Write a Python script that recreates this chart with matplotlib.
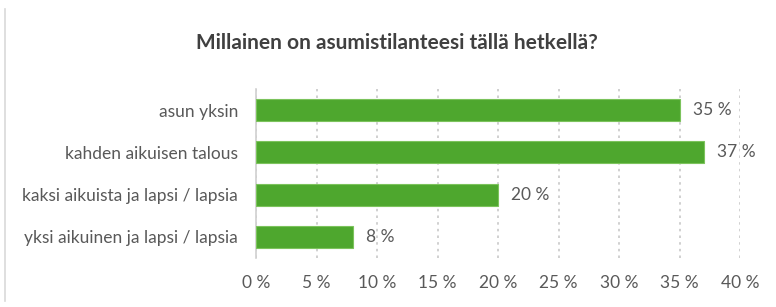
import numpy as np
import matplotlib.pyplot as plt
from matplotlib.lines import Line2D

#data
categories = ['asun yksin', 'kahden aikuisen talous',
              'kaksi aikuista ja lapsi / lapsia', 'yksi aikuinen ja lapsi / lapsia']
values = [35, 37, 20, 8]
ticks = [0, 5, 10, 15, 20, 25, 30, 35, 40]

plt.rcParams['font.family'] = ['Lato', 'DejaVu Sans']

fig = plt.figure(figsize=[7.76, 3.07], dpi=100)
ax = fig.add_axes([0.33, 0.16, 0.6237, 0.55])

y = np.arange(len(categories))
ax.barh(y, values, height=0.52, color='#4ea72e', edgecolor='#7cc35c', linewidth=0.8, zorder=3)
for yi, v in zip(y, values):
    ax.text(v + 1.1, yi, f'{v} %', va='center', ha='left', fontsize=12.5, color='#595959')

ax.set_ylim(len(categories) - 0.5, -0.5)
ax.set_xlim(0, 40)
ax.set_yticks(y)
ax.set_yticklabels(categories, fontsize=12.5, color='#595959')
ax.set_xticks(ticks)
ax.set_xticklabels([f'{t} %' for t in ticks], fontsize=12.5, color='#595959')
ax.tick_params(axis='y', length=0, pad=13)
ax.tick_params(axis='x', length=0, pad=12)
ax.grid(axis='x', linestyle=(0, (1.5, 2.5)), color='#c8c8c8', linewidth=1.2, zorder=0)
for s in ['top', 'right', 'bottom']:
    ax.spines[s].set_visible(False)
ax.spines['left'].set_color('#d0d0d0')
ax.spines['left'].set_linewidth(1.2)

fig.text(0.512, 0.86, 'Millainen on asumistilanteesi tällä hetkellä?', ha='center', va='center',
         fontsize=15, fontweight='bold', color='#404040')
fig.add_artist(Line2D([0.0065, 0.0065], [0.02, 0.97], color='#d9d9d9', linewidth=1.2))

plt.savefig('out.png', dpi=100)
